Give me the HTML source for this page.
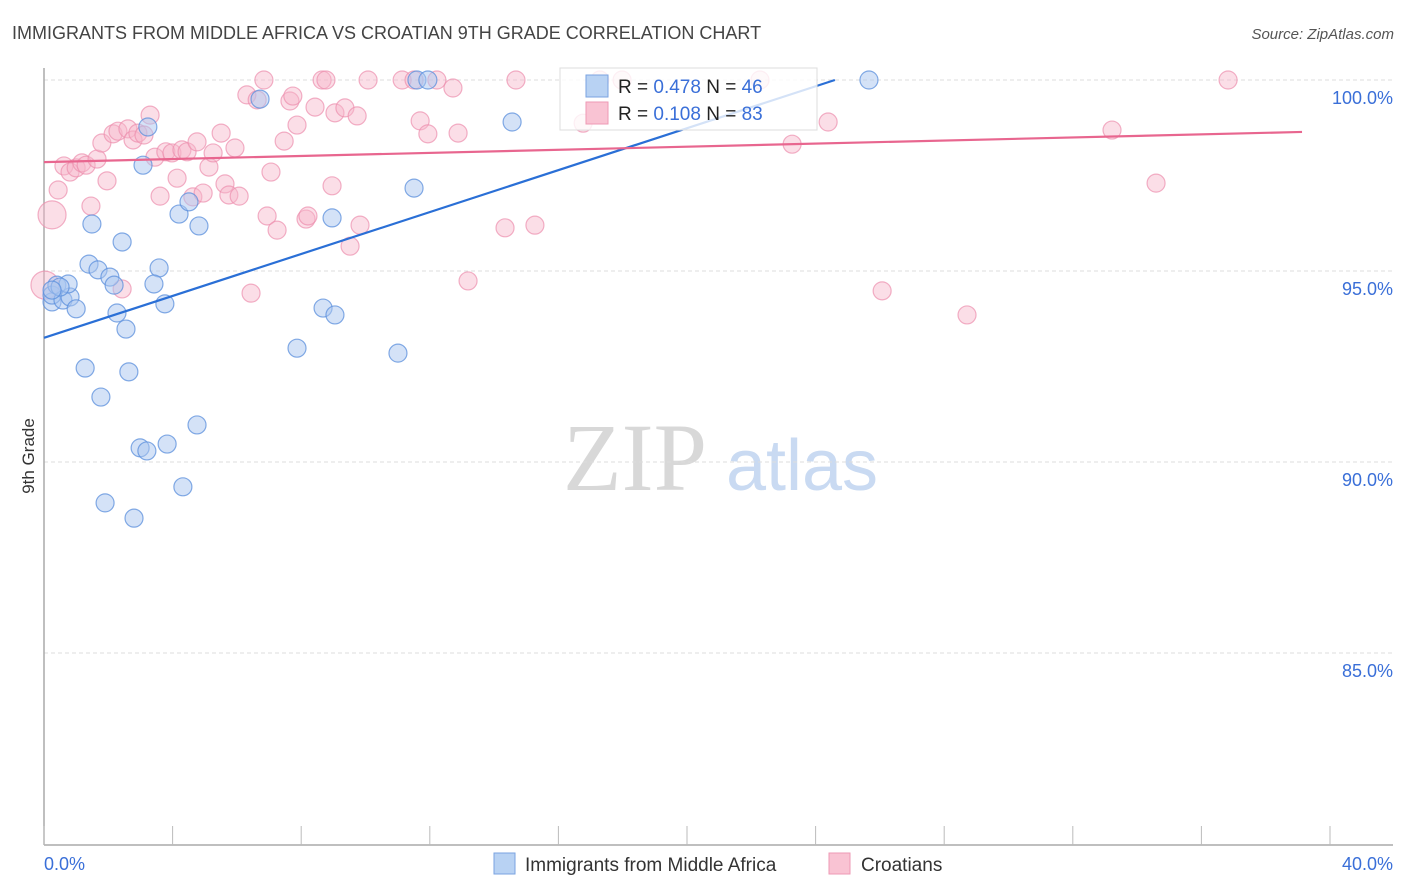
<!DOCTYPE html>
<html><head><meta charset="utf-8"><style>
body{margin:0;background:#fff;font-family:"Liberation Sans",sans-serif}
svg{display:block}
</style></head><body>
<svg id="chart" width="1406" height="892" viewBox="0 0 1406 892">
<text x="12" y="39" font-size="18" fill="#444">IMMIGRANTS FROM MIDDLE AFRICA VS CROATIAN 9TH GRADE CORRELATION CHART</text>
<text x="1394" y="39" font-size="15" fill="#555" font-style="italic" text-anchor="end">Source: ZipAtlas.com</text>
<text x="34" y="456" font-size="17" fill="#333" transform="rotate(-90 34 456)" text-anchor="middle">9th Grade</text>
<g>
<text x="635" y="490" font-size="96" fill="#d8d8d8" font-family="Liberation Serif,serif" text-anchor="middle">ZIP</text>
<text x="802" y="490" font-size="72" fill="#c9daf2" text-anchor="middle">atlas</text>
</g>
<g id="grid"></g>
<g id="axes"></g>
<g id="pts"></g>
<g id="lines"></g>
<g>
<rect x="560" y="68" width="257" height="62" fill="#fff" fill-opacity="0.8" stroke="#ddd"/>
<rect x="586" y="75" width="22" height="22" fill="#b8d2f3" stroke="#7aa3e0"/>
<rect x="586" y="102" width="22" height="22" fill="#f9c3d3" stroke="#ee9ab4"/>
<text x="618" y="93" font-size="19" fill="#222">R = <tspan fill="#3a6fd8">0.478</tspan>   N = <tspan fill="#3a6fd8">46</tspan></text>
<text x="618" y="120" font-size="19" fill="#222">R =  <tspan fill="#3a6fd8">0.108</tspan>   N = <tspan fill="#3a6fd8">83</tspan></text>
</g>
<g>
<rect x="494" y="853" width="21" height="21" fill="#b8d2f3" stroke="#7aa3e0"/>
<text x="525" y="871" font-size="19" fill="#333">Immigrants from Middle Africa</text>
<rect x="829" y="853" width="21" height="21" fill="#f9c3d3" stroke="#ee9ab4"/>
<text x="861" y="871" font-size="19" fill="#333">Croatians</text>
</g>
</svg>
<script>
const xTicks=[0,4,8,12,16,20,24,28,32,36,40];
const yTicks=[100,95,90,85];
const yTickLabels=["100.0%","95.0%","90.0%","85.0%"];
const blueX=[.25,.25,.40,.59,.81,1.00,.75,.50,1.40,1.49,1.68,2.05,2.18,1.28,1.77,1.90,2.27,2.43,2.55,2.64,2.80,2.99,3.20,3.08,3.23,3.58,3.42,3.76,3.83,4.20,4.32,4.51,4.76,4.82,6.72,7.87,8.68,8.96,9.05,11.01,11.51,11.60,11.94,14.56,25.66,.25];
const blueY=[94.19,94.37,94.63,94.24,94.32,94.01,94.66,94.58,95.18,96.23,95.03,94.84,94.63,92.46,91.70,88.93,93.90,95.76,93.48,92.36,88.53,90.37,90.29,97.77,98.77,95.08,94.66,94.14,90.47,96.49,89.35,96.81,90.97,96.18,99.50,92.98,94.03,96.39,93.85,92.85,97.17,100,100,98.90,100,94.50];
const pinkX=[.03,.25,.44,.62,.81,1.00,1.18,1.31,1.46,1.65,1.80,1.96,2.15,2.30,2.43,2.61,2.77,2.92,3.11,3.30,3.45,3.61,3.79,3.98,4.14,4.29,4.45,4.63,4.76,4.95,5.13,5.26,5.51,5.63,5.75,5.94,6.07,6.31,6.44,6.63,6.84,6.94,7.06,7.25,7.47,7.65,7.74,7.87,8.15,8.21,8.43,8.65,8.77,8.96,9.05,9.36,9.52,9.74,9.83,10.08,11.14,11.51,11.70,11.94,12.22,12.72,12.88,13.19,14.34,14.68,15.27,16.77,17.29,17.98,22.27,23.27,24.39,26.07,28.71,33.22,34.59,36.83];
const pinkY=[94.63,96.47,97.12,97.75,97.59,97.70,97.83,97.77,96.70,97.93,98.35,97.36,98.59,98.66,94.53,98.72,98.43,98.61,98.56,99.08,97.98,96.96,98.12,98.09,97.43,98.17,98.12,96.94,98.38,97.04,97.72,98.09,98.61,97.28,96.99,98.22,96.96,99.61,94.42,99.48,100,96.44,97.59,96.07,98.40,99.45,99.58,98.82,96.36,96.44,99.29,100,100,97.23,99.14,99.27,95.65,99.06,96.20,100,100,100,98.93,98.59,100,99.79,98.61,94.74,96.13,100,96.20,98.87,100,100,100,98.32,98.90,94.48,93.85,98.69,97.30,100];
const blueTrend=[[0,93.25],[24.6,100]];
const pinkTrend=[[0,97.85],[39.13,98.64]];
const X=v=>44+v*32.15, Y=v=>80+(100-v)*38.2;
const NS="http://www.w3.org/2000/svg";
function mk(tag,attrs,parent){const e=document.createElementNS(NS,tag);for(const k in attrs)e.setAttribute(k,attrs[k]);parent.appendChild(e);return e;}
const grid=document.getElementById('grid'),axes=document.getElementById('axes'),pts=document.getElementById('pts'),lines=document.getElementById('lines');
yTicks.forEach((t,i)=>{
 const l=mk('line',{x1:44,x2:1393,y1:Y(t),y2:Y(t),stroke:'#ddd','stroke-dasharray':'4 3'},grid);
 
 
 const tx=mk('text',{x:1393,y:Y(t)+24,'font-size':18,fill:'#3a6fd8','text-anchor':'end'},grid);
 tx.textContent=yTickLabels[i];
 
 
});
const ya=mk('line',{x1:44,x2:44,y1:68,y2:845,stroke:'#aaa','stroke-width':1.5},axes);


const xa=mk('line',{x1:44,x2:1393,y1:845,y2:845,stroke:'#aaa','stroke-width':1.5},axes);


xTicks.forEach(t=>{
 const l=mk('line',{x1:X(t),x2:X(t),y1:826,y2:845,stroke:'#bbb'},axes);
 
 
});
const xl0=mk('text',{x:44,y:870,'font-size':18,fill:'#3a6fd8'},axes);xl0.textContent=xTicks[0].toFixed(1)+'%';


const xl1=mk('text',{x:1393,y:870,'font-size':18,fill:'#3a6fd8','text-anchor':'end'},axes);xl1.textContent=xTicks[xTicks.length-1].toFixed(1)+'%';


pinkX.forEach((v,i)=>{
 const r=i<2?14:9;
 const c=mk('circle',{cx:X(v),cy:Y(pinkY[i]),r:r,fill:'#f7b6ca','fill-opacity':0.45,stroke:'#ec8fae','stroke-opacity':0.7,'stroke-width':1.2},pts);
 
 
});
blueX.forEach((v,i)=>{
 const c=mk('circle',{cx:X(v),cy:Y(blueY[i]),r:9,fill:'#a9c6ef','fill-opacity':0.5,stroke:'#5b8fdc','stroke-opacity':0.75,'stroke-width':1.2},pts);
 
 
});
const bl=mk('line',{x1:X(blueTrend[0][0]),y1:Y(blueTrend[0][1]),x2:X(blueTrend[1][0]),y2:Y(blueTrend[1][1]),stroke:'#2a6fd6','stroke-width':2.2},lines);


const pl=mk('line',{x1:X(pinkTrend[0][0]),y1:Y(pinkTrend[0][1]),x2:X(pinkTrend[1][0]),y2:Y(pinkTrend[1][1]),stroke:'#e8668f','stroke-width':2.2},lines);


</script>
</body></html>
